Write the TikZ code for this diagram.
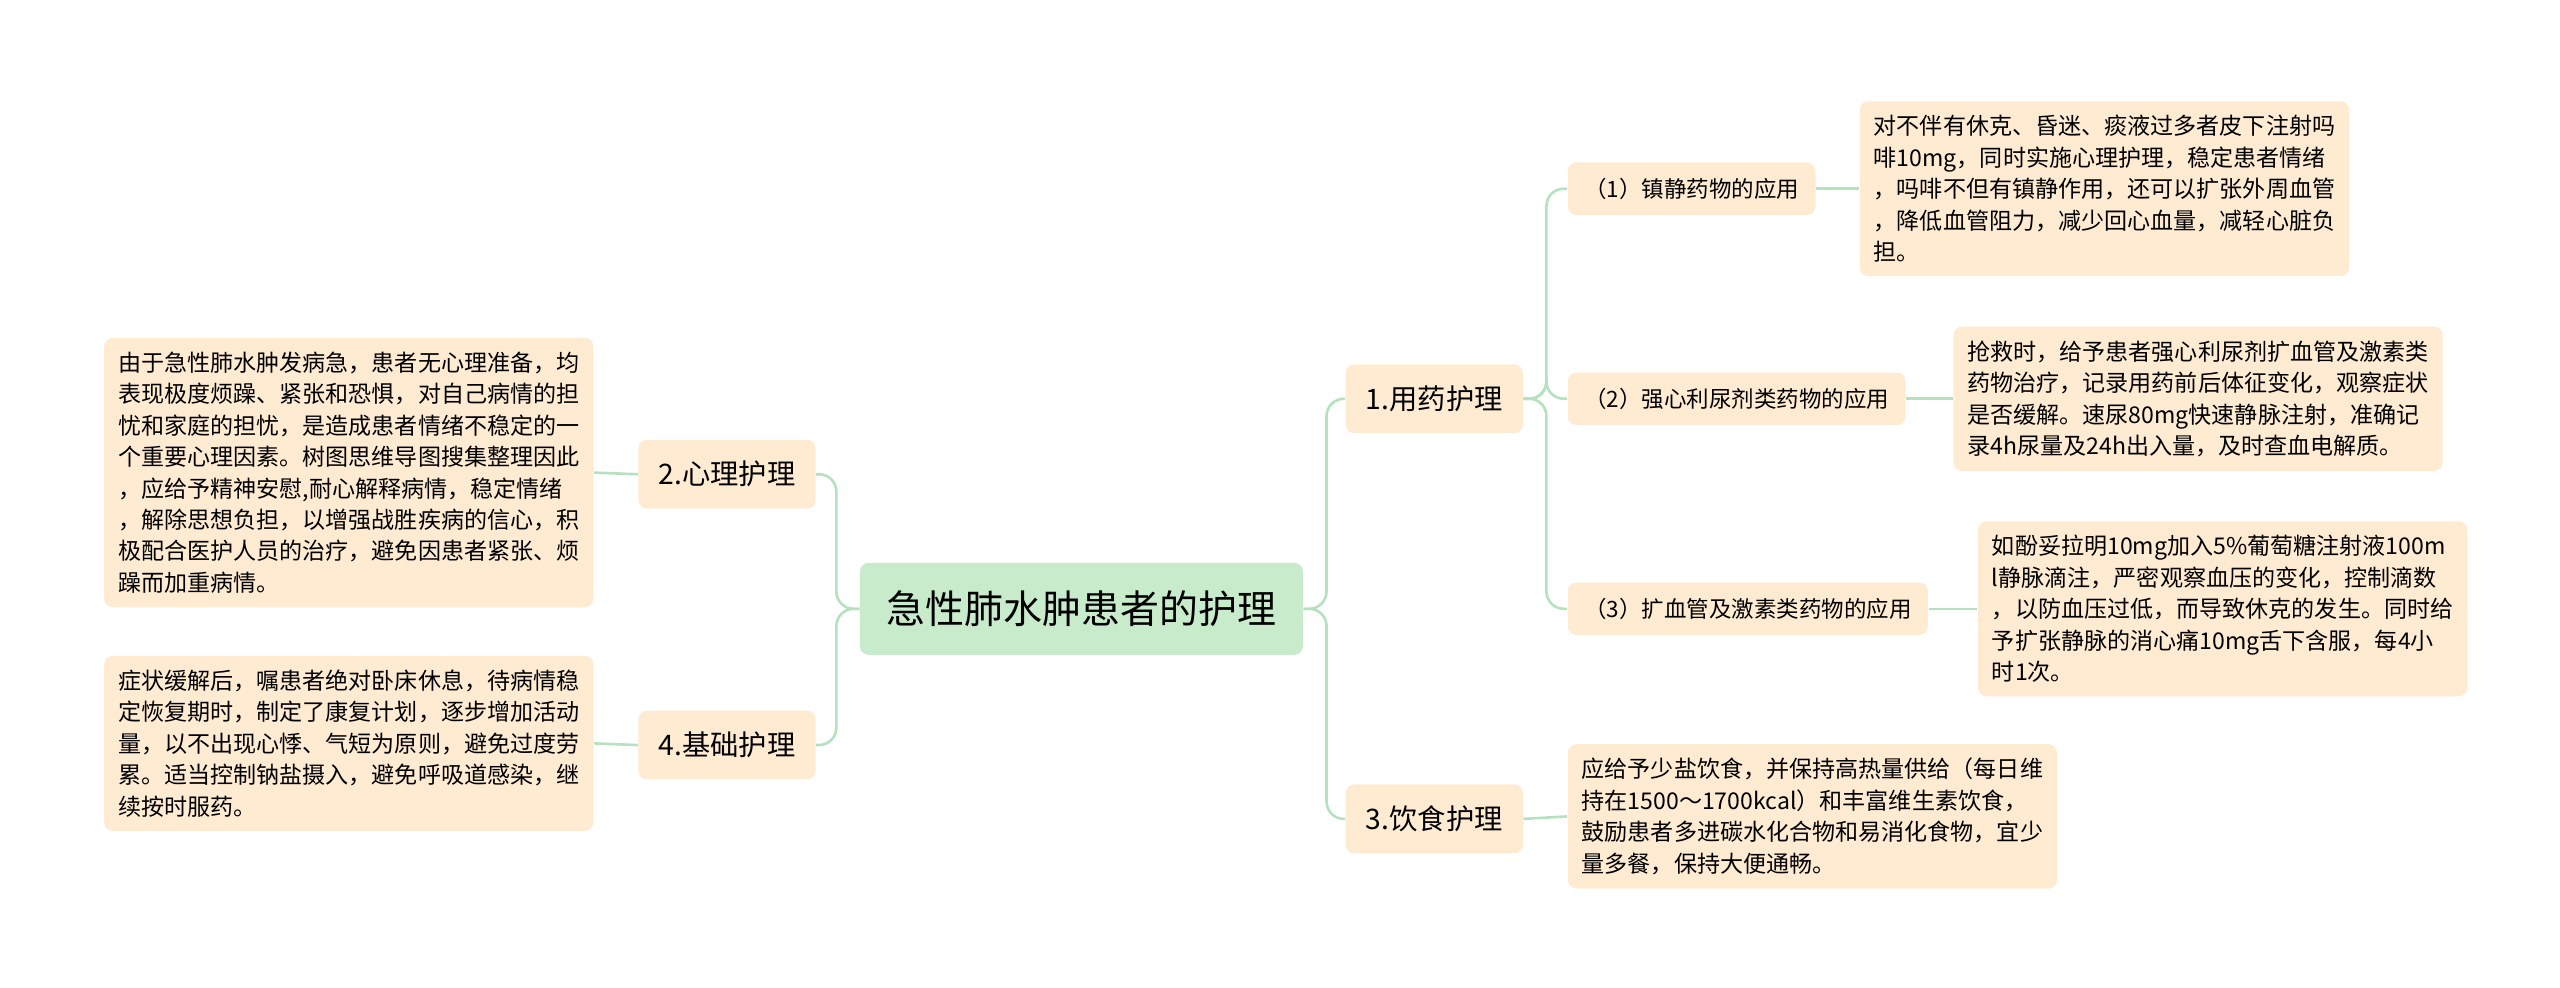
\documentclass[tikz,border=0pt]{standalone}
\usepackage{fontspec}
\setmainfont{Noto Sans CJK SC}
\usetikzlibrary{positioning}
\definecolor{rootgreen}{HTML}{C8EBCB}
\definecolor{peach}{HTML}{FEEBD2}
\definecolor{linegreen}{HTML}{B5E2BE}
\tikzset{
  rootbox/.style={rectangle,rounded corners=3pt,fill=rootgreen,minimum width=5.4cm,minimum height=1.12cm,font=\fontsize{13.5}{16}\selectfont},
  branchbox/.style={rectangle,rounded corners=3pt,fill=peach,minimum width=2.16cm,minimum height=0.84cm,font=\fontsize{9.8}{12}\selectfont},
  subbox/.style={rectangle,rounded corners=3pt,fill=peach,minimum height=0.64cm,inner xsep=0.2cm,font=\fontsize{7.8}{10}\selectfont},
  leafbox/.style={rectangle,rounded corners=3pt,fill=peach,align=left,inner sep=0.17cm,font=\fontsize{8}{10.9}\selectfont},
  link/.style={draw=linegreen,line width=0.9pt,rounded corners=6pt}
}
\begin{document}
\begin{tikzpicture}
    \useasboundingbox (0,0) rectangle (31.2,12.03);
    \node [rootbox] (Root) at (13.18,4.61) {急性肺水肿患者的护理};
    \node [branchbox] (Drug) at (17.48,7.17) {1.用药护理};
    \node [branchbox] (Mind) at (8.86,6.25) {2.心理护理};
    \node [branchbox] (Diet) at (17.48,2.05) {3.饮食护理};
    \node [branchbox] (Base) at (8.86,2.95) {4.基础护理};
    \node [subbox,anchor=west] (Calm) at (19.1,9.73) {（1）镇静药物的应用};
    \node [subbox,anchor=west] (Heart) at (19.1,7.17) {（2）强心利尿剂类药物的应用};
    \node [subbox,anchor=west] (Vessel) at (19.1,4.61) {（3）扩血管及激素类药物的应用};
    \node [leafbox,anchor=west] (CalmText) at (22.66,9.73) {对不伴有休克、昏迷、痰液过多者皮下注射吗\\啡10mg，同时实施心理护理，稳定患者情绪\\，吗啡不但有镇静作用，还可以扩张外周血管\\，降低血管阻力，减少回心血量，减轻心脏负\\担。};
    \node [leafbox,anchor=west] (HeartText) at (23.8,7.17) {抢救时，给予患者强心利尿剂扩血管及激素类\\药物治疗，记录用药前后体征变化，观察症状\\是否缓解。速尿80mg快速静脉注射，准确记\\录4h尿量及24h出入量，及时查血电解质。};
    \node [leafbox,anchor=west] (VesselText) at (24.1,4.61) {如酚妥拉明10mg加入5\%葡萄糖注射液100m\\l静脉滴注，严密观察血压的变化，控制滴数\\，以防血压过低，而导致休克的发生。同时给\\予扩张静脉的消心痛10mg舌下含服，每4小\\时1次。};
    \node [leafbox,anchor=west] (DietText) at (19.1,2.08) {应给予少盐饮食，并保持高热量供给（每日维\\持在1500～1700kcal）和丰富维生素饮食，\\鼓励患者多进碳水化合物和易消化食物，宜少\\量多餐，保持大便通畅。};
    \node [leafbox,anchor=east] (MindText) at (7.24,6.27) {由于急性肺水肿发病急，患者无心理准备，均\\表现极度烦躁、紧张和恐惧，对自己病情的担\\忧和家庭的担忧，是造成患者情绪不稳定的一\\个重要心理因素。树图思维导图搜集整理因此\\，应给予精神安慰,耐心解释病情，稳定情绪\\，解除思想负担，以增强战胜疾病的信心，积\\极配合医护人员的治疗，避免因患者紧张、烦\\躁而加重病情。};
    \node [leafbox,anchor=east] (BaseText) at (7.24,2.97) {症状缓解后，嘱患者绝对卧床休息，待病情稳\\定恢复期时，制定了康复计划，逐步增加活动\\量，以不出现心悸、气短为原则，避免过度劳\\累。适当控制钠盐摄入，避免呼吸道感染，继\\续按时服药。};
    % connectors
    \foreach \child in {Drug,Diet}
        \draw [link] (Root.east) -- ++(0.28,0) |- (\child.west);
    \foreach \child in {Mind,Base}
        \draw [link] (Root.west) -- ++(-0.28,0) |- (\child.east);
    \foreach \child in {Calm,Heart,Vessel}
        \draw [link] (Drug.east) -- ++(0.28,0) |- (\child.west);
    \draw [link] (Calm.east) -- (CalmText.west);
    \draw [link] (Heart.east) -- (HeartText.west);
    \draw [link] (Vessel.east) -- (VesselText.west);
    \draw [link] (Diet.east) -- (DietText.west);
    \draw [link] (Mind.west) -- (MindText.east);
    \draw [link] (Base.west) -- (BaseText.east);
\end{tikzpicture}
\end{document}
